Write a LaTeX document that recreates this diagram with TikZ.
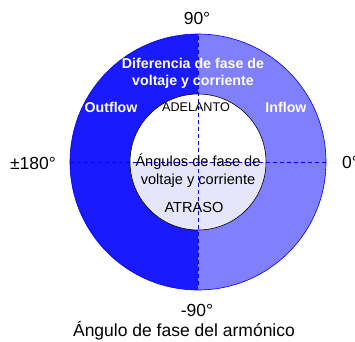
\documentclass[tikz,border=0pt]{standalone}
\usepackage{fontspec}
\setmainfont{Liberation Sans}
\definecolor{darkb}{RGB}{26,26,255}
\definecolor{lightb}{RGB}{128,128,255}
\definecolor{lav}{RGB}{230,230,250}
\begin{document}
\begin{tikzpicture}[x=1pt,y=-1pt,
  wlab/.style={text=white,font=\fontsize{14.2}{16}\selectfont\bfseries,inner sep=0pt},
  blab/.style={text=black,inner sep=0pt},
  axlab/.style={text=black,font=\fontsize{17.5}{20}\selectfont,inner sep=0pt},
  dashln/.style={blue,dash pattern=on 4pt off 3pt,line width=0.6pt}]
\useasboundingbox (0,0) rectangle (355,341);
\coordinate (c) at (198,162);
% outer ring halves (y axis points down: angle 270 is the top)
\fill[darkb] (198,34) arc[start angle=270,end angle=90,radius=128] -- cycle;
\fill[lightb] (198,34) arc[start angle=270,end angle=450,radius=128] -- cycle;
\draw[blue,line width=0.6pt] (c) circle[radius=128];
% inner circle halves
\fill[white] (130,162) arc[start angle=180,end angle=360,radius=68] -- cycle;
\fill[lav] (130,162) arc[start angle=180,end angle=0,radius=68] -- cycle;
\draw[black,line width=0.6pt] (c) circle[radius=68];
% dashed axes
\coordinate (l) at (70,162);
\coordinate (r) at (326,162);
\coordinate (t) at (198,36);
\coordinate (b) at (198,288);
\draw[dashln] (l) -- (r);
\draw[dashln] (t) -- (b);
% labels
\node[axlab] (n90) at (197,18) {90°};
\node[axlab] (nm90) at (197,310) {-90°};
\node[axlab] (n180) at (33,163) {±180°};
\node[axlab,anchor=west] (n0) at (342,162) {0°};
\node[axlab] (cap) at (184,331) {Ángulo de fase del armónico};
\node[wlab] (d1) at (193,63) {Diferencia de fase de};
\node[wlab] (d2) at (193,82) {voltaje y corriente};
\node[wlab] (out) at (111,107) {Outflow};
\node[wlab] (inf) at (286,107) {Inflow};
\node[blab,font=\fontsize{12.6}{14}\selectfont] (adel) at (196,107) {ADELANTO};
\node[blab,font=\fontsize{14.6}{16}\selectfont] (a1) at (198,162) {Ángulos de fase de};
\node[blab,font=\fontsize{14.6}{16}\selectfont] (a2) at (198,181) {voltaje y corriente};
\node[blab,font=\fontsize{14.6}{16}\selectfont] (atr) at (194,207) {ATRASO};
\end{tikzpicture}
\end{document}
